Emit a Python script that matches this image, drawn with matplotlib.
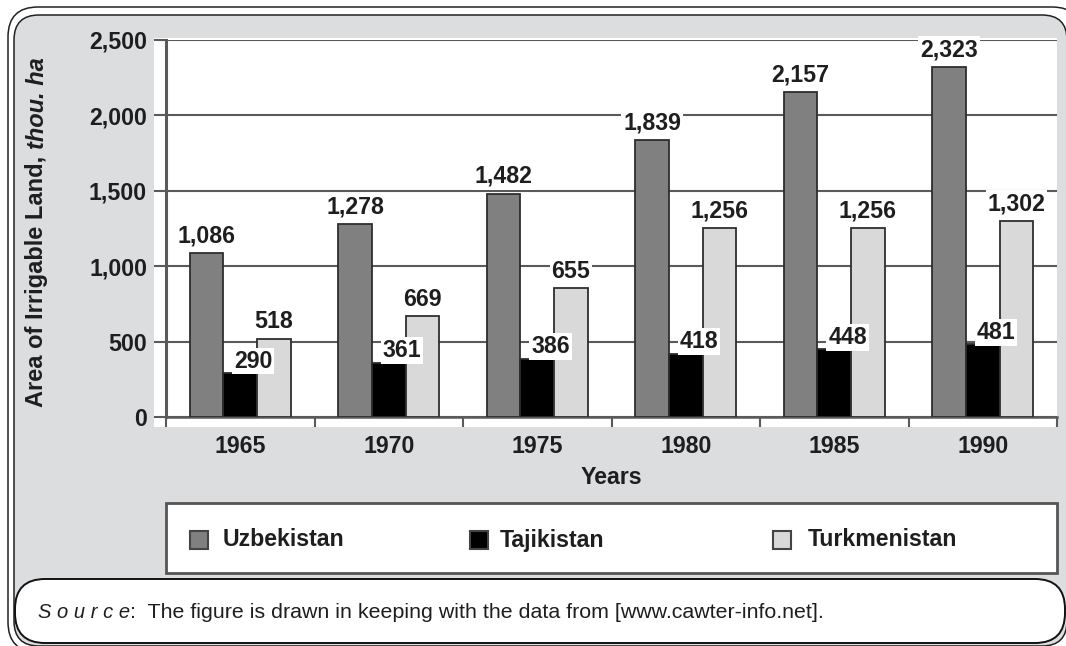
import numpy as np
import matplotlib.pyplot as plt
from matplotlib.patches import Rectangle, FancyBboxPatch

years = ['1965', '1970', '1975', '1980', '1985', '1990']
series_names = ['Uzbekistan', 'Tajikistan', 'Turkmenistan']
uzbek = [1086, 1278, 1482, 1839, 2157, 2323]
tajik = [290, 361, 386, 418, 448, 481]
turkmen = [518, 669, 855, 1256, 1256, 1302]
# printed labels (the 1975 Turkmenistan bar is labelled 655 in the source)
uzbek_labels = ['1,086', '1,278', '1,482', '1,839', '2,157', '2,323']
tajik_labels = ['290', '361', '386', '418', '448', '481']
turkmen_labels = ['518', '669', '655', '1,256', '1,256', '1,302']
y_ticks = [0, 500, 1000, 1500, 2000, 2500]
y_ticklabels = ['0', '500', '1,000', '1,500', '2,000', '2,500']

colors = ['#808080', '#000000', '#d9d9d9']
edge = '#2e2e2e'
grid_c = '#5a5a5a'
bg_gray = '#dcdddf'
txt_c = '#1e1e1e'
fs = 16.7

plt.rcParams['font.family'] = ['Liberation Sans', 'DejaVu Sans']

W, H = 1066, 646
fig = plt.figure(figsize=(W / 100, H / 100), dpi=100)
fig.patch.set_facecolor('white')

# background layer in pixel coords
bg = fig.add_axes([0, 0, 1, 1], zorder=0)
bg.set_xlim(0, W)
bg.set_ylim(H, 0)
bg.axis('off')

def rbox(x0, y0, x1, y1, r, fc, ec, lw):
    p = FancyBboxPatch((x0, y0), x1 - x0, y1 - y0,
                       boxstyle='round,pad=0,rounding_size=%d' % r,
                       fc=fc, ec=ec, lw=lw)
    bg.add_patch(p)

rbox(8, 7, 1082, 652, 30, 'white', '#222222', 1.1)
rbox(14, 15, 1067, 646, 25, bg_gray, '#222222', 1.1)
rbox(15, 579, 1065, 643, 30, 'white', '#111111', 1.4)

# white plot area
bg.add_patch(Rectangle((154, 38), 1057 - 154, 427 - 38, fc='white', ec='none'))

# legend box
bg.add_patch(Rectangle((166, 503), 1057 - 166, 573 - 503, fc='white',
                       ec='#555555', lw=2))
leg_marker_x = [190, 470, 773]
leg_text_x = [223, 500, 808]
for name, c, mx, tx in zip(series_names, colors, leg_marker_x, leg_text_x):
    bg.add_patch(Rectangle((mx, 531), 18, 18, fc=c, ec='#444444', lw=1.5))
    bg.text(tx, 540, name, fontsize=fs, fontweight='bold', color=txt_c,
            ha='left', va='center')

# x label
bg.text(611, 478, 'Years', fontsize=fs, fontweight='bold', color=txt_c,
        ha='center', va='center')

# y label (two parts, second in italic)
t1 = bg.text(37, 407, 'Area of Irrigable Land, ', fontsize=17,
             fontweight='bold', color=txt_c, rotation=90,
             ha='center', va='bottom')
bg.annotate('thou. ha', xy=(0.5, 1), xycoords=t1, fontsize=17,
            fontweight='bold', fontstyle='italic', color=txt_c,
            rotation=90, ha='center', va='bottom')

# source line
s1 = bg.text(38, 618, 'S o u r c e', fontsize=14.5, fontstyle='italic',
             color=txt_c, ha='left', va='baseline')
bg.annotate(':  The figure is drawn in keeping with the data from '
            '[www.cawter-info.net].', xy=(1, 0), xycoords=s1,
            fontsize=15.4, color=txt_c, ha='left', va='bottom')

# main chart
ax = fig.add_axes([166 / W, 1 - 417 / H, (1057 - 166) / W, (417 - 40) / H],
                  zorder=1)
ax.set_facecolor('none')
x = np.arange(len(years))
bw = 0.227
offsets = [-bw, 0, bw]
data = [uzbek, tajik, turkmen]
labels = [uzbek_labels, tajik_labels, turkmen_labels]

for vals, labs, off, c, k in zip(data, labels, offsets, colors, range(3)):
    ax.bar(x + off, vals, width=bw, color=c, edgecolor=edge, linewidth=1.3,
           zorder=3)
    for xi, v, lab in zip(x + off, vals, labs):
        if k == 1:
            dx, dy = 9.5, 0.5
        else:
            dx, dy = 0, 4
        ax.annotate(lab, xy=(xi, v), xytext=(dx, dy),
                    textcoords='offset points', ha='center', va='bottom',
                    fontsize=fs, fontweight='bold', color=txt_c, zorder=4,
                    bbox=dict(boxstyle='square,pad=0.08', fc='white',
                              ec='none'))

ax.set_xlim(-0.5, len(years) - 0.5)
ax.set_ylim(0, 2500)
ax.set_yticks(y_ticks)
ax.set_yticklabels(y_ticklabels, fontsize=fs, fontweight='bold', color=txt_c)
ax.tick_params(axis='y', length=8.6, width=1.5, color=grid_c, pad=5)
ax.yaxis.grid(True, color=grid_c, linewidth=1.5, zorder=1)
ax.set_axisbelow(True)

ax.set_xticks(np.arange(-0.5, len(years), 1.0))
ax.set_xticklabels([])
ax.set_xticks(x, minor=True)
ax.set_xticklabels(years, minor=True, fontsize=fs, fontweight='bold',
                   color=txt_c)
ax.tick_params(axis='x', which='major', length=7.2, width=1.5, color=grid_c)
ax.tick_params(axis='x', which='minor', length=0, pad=13)

for s in ['top', 'right']:
    ax.spines[s].set_visible(False)
ax.spines['left'].set_color(grid_c)
ax.spines['left'].set_linewidth(2.2)
ax.spines['bottom'].set_color(grid_c)
ax.spines['bottom'].set_linewidth(1.8)
ax.spines['left'].set_zorder(2)

fig.savefig('out.png', dpi=100)
